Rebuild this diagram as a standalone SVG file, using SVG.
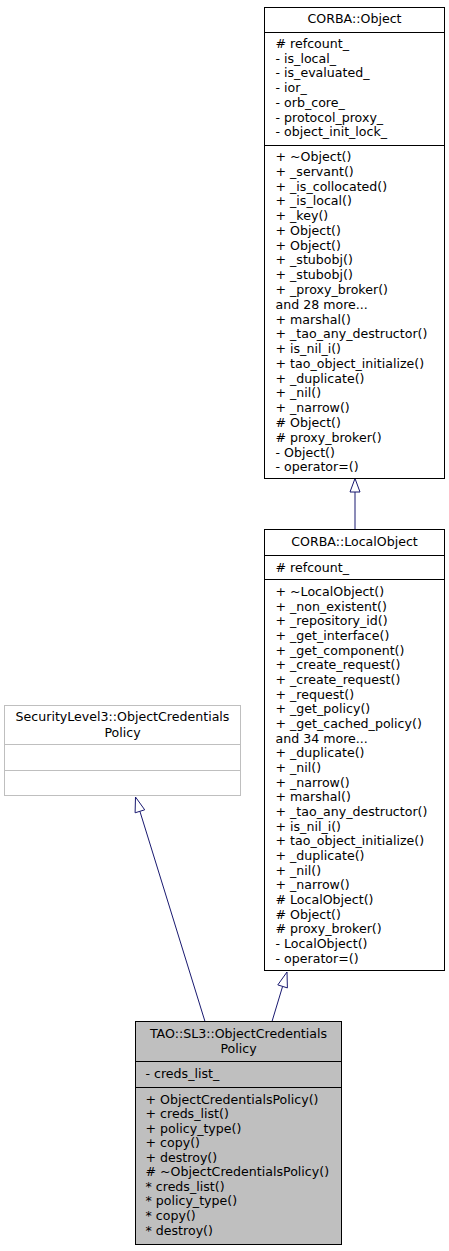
<svg xmlns="http://www.w3.org/2000/svg" width="449" height="1251" viewBox="0 0 449 1251">
<style>
text{font-family:"DejaVu Sans","Liberation Sans",sans-serif;font-size:12.6px;fill:#000}
.c{text-anchor:middle}
.box{fill:#fff;stroke:#000;stroke-width:1}
.gbox{fill:#fff;stroke:#bfbfbf;stroke-width:1}
.sel{fill:#bfbfbf;stroke:#000;stroke-width:1}
.sep{stroke:#000;stroke-width:1}
.gsep{stroke:#bfbfbf;stroke-width:1}
.edge{fill:none;stroke:#191970;stroke-width:1}
.head{fill:#fff;stroke:#191970;stroke-width:1}
</style>
<rect width="449" height="1251" fill="#fff"/>
<g id="edges">
<path class="edge" d="M355,529 L355,492"/>
<polygon class="head" points="355,478.5 350,492 360,492"/>
<path class="edge" d="M272,1021.5 L282.6,986.4"/>
<polygon class="head" points="287,972 277.8,984.9 287.4,987.9"/>
<path class="edge" d="M205,1021.5 L139.9,811.3"/>
<polygon class="head" points="135.5,797 144.7,809.8 135.1,812.8"/>
</g>
<g id="node-corba-object">
<rect class="box" x="264.5" y="7.5" width="180" height="471"/>
<line class="sep" x1="264.5" y1="32.5" x2="444.5" y2="32.5"/>
<line class="sep" x1="264.5" y1="145.5" x2="444.5" y2="145.5"/>
<text class="c" x="354.5" y="23">CORBA::Object</text>
<text x="275.5" y="48"># refcount_</text>
<text x="275.5" y="62.7">- is_local_</text>
<text x="275.5" y="77.4">- is_evaluated_</text>
<text x="275.5" y="92.1">- ior_</text>
<text x="275.5" y="106.8">- orb_core_</text>
<text x="275.5" y="121.5">- protocol_proxy_</text>
<text x="275.5" y="136.2">- object_init_lock_</text>
<text x="275.5" y="161">+ ~Object()</text>
<text x="275.5" y="175.78">+ _servant()</text>
<text x="275.5" y="190.56">+ _is_collocated()</text>
<text x="275.5" y="205.34">+ _is_local()</text>
<text x="275.5" y="220.12">+ _key()</text>
<text x="275.5" y="234.9">+ Object()</text>
<text x="275.5" y="249.68">+ Object()</text>
<text x="275.5" y="264.46">+ _stubobj()</text>
<text x="275.5" y="279.24">+ _stubobj()</text>
<text x="275.5" y="294.02">+ _proxy_broker()</text>
<text x="275.5" y="308.8">and 28 more...</text>
<text x="275.5" y="323.58">+ marshal()</text>
<text x="275.5" y="338.36">+ _tao_any_destructor()</text>
<text x="275.5" y="353.14">+ is_nil_i()</text>
<text x="275.5" y="367.92">+ tao_object_initialize()</text>
<text x="275.5" y="382.7">+ _duplicate()</text>
<text x="275.5" y="397.48">+ _nil()</text>
<text x="275.5" y="412.26">+ _narrow()</text>
<text x="275.5" y="427.04"># Object()</text>
<text x="275.5" y="441.82"># proxy_broker()</text>
<text x="275.5" y="456.6">- Object()</text>
<text x="275.5" y="471.38">- operator=()</text>
</g>
<g id="node-corba-localobject">
<rect class="box" x="264.5" y="529.5" width="180" height="441"/>
<line class="sep" x1="264.5" y1="555.5" x2="444.5" y2="555.5"/>
<line class="sep" x1="264.5" y1="579.5" x2="444.5" y2="579.5"/>
<text class="c" x="354.5" y="545.5">CORBA::LocalObject</text>
<text x="275.5" y="571.5"># refcount_</text>
<text x="275.5" y="596">+ ~LocalObject()</text>
<text x="275.5" y="610.67">+ _non_existent()</text>
<text x="275.5" y="625.34">+ _repository_id()</text>
<text x="275.5" y="640.01">+ _get_interface()</text>
<text x="275.5" y="654.68">+ _get_component()</text>
<text x="275.5" y="669.35">+ _create_request()</text>
<text x="275.5" y="684.02">+ _create_request()</text>
<text x="275.5" y="698.69">+ _request()</text>
<text x="275.5" y="713.36">+ _get_policy()</text>
<text x="275.5" y="728.03">+ _get_cached_policy()</text>
<text x="275.5" y="742.7">and 34 more...</text>
<text x="275.5" y="757.37">+ _duplicate()</text>
<text x="275.5" y="772.04">+ _nil()</text>
<text x="275.5" y="786.71">+ _narrow()</text>
<text x="275.5" y="801.38">+ marshal()</text>
<text x="275.5" y="816.05">+ _tao_any_destructor()</text>
<text x="275.5" y="830.72">+ is_nil_i()</text>
<text x="275.5" y="845.39">+ tao_object_initialize()</text>
<text x="275.5" y="860.06">+ _duplicate()</text>
<text x="275.5" y="874.73">+ _nil()</text>
<text x="275.5" y="889.4">+ _narrow()</text>
<text x="275.5" y="904.07"># LocalObject()</text>
<text x="275.5" y="918.74"># Object()</text>
<text x="275.5" y="933.41"># proxy_broker()</text>
<text x="275.5" y="948.08">- LocalObject()</text>
<text x="275.5" y="962.75">- operator=()</text>
</g>
<g id="node-securitylevel3-objectcredentialspolicy">
<rect class="gbox" x="4.5" y="705.5" width="236" height="90"/>
<line class="gsep" x1="4.5" y1="744.5" x2="240.5" y2="744.5"/>
<line class="gsep" x1="4.5" y1="770.5" x2="240.5" y2="770.5"/>
<text class="c" x="122.5" y="721">SecurityLevel3::ObjectCredentials</text>
<text class="c" x="122.5" y="736.5">Policy</text>
</g>
<g id="node-tao-sl3-objectcredentialspolicy">
<rect class="sel" x="135.5" y="1021.5" width="206" height="223"/>
<line class="sep" x1="135.5" y1="1061.5" x2="341.5" y2="1061.5"/>
<line class="sep" x1="135.5" y1="1087.5" x2="341.5" y2="1087.5"/>
<text class="c" x="238.5" y="1038">TAO::SL3::ObjectCredentials</text>
<text class="c" x="238.5" y="1052.7">Policy</text>
<text x="145.5" y="1078">- creds_list_</text>
<text x="145.5" y="1103.5">+ ObjectCredentialsPolicy()</text>
<text x="145.5" y="1118.06">+ creds_list()</text>
<text x="145.5" y="1132.62">+ policy_type()</text>
<text x="145.5" y="1147.18">+ copy()</text>
<text x="145.5" y="1161.74">+ destroy()</text>
<text x="145.5" y="1176.3"># ~ObjectCredentialsPolicy()</text>
<text x="145.5" y="1190.86">* creds_list()</text>
<text x="145.5" y="1205.42">* policy_type()</text>
<text x="145.5" y="1219.98">* copy()</text>
<text x="145.5" y="1234.54">* destroy()</text>
</g>
</svg>
